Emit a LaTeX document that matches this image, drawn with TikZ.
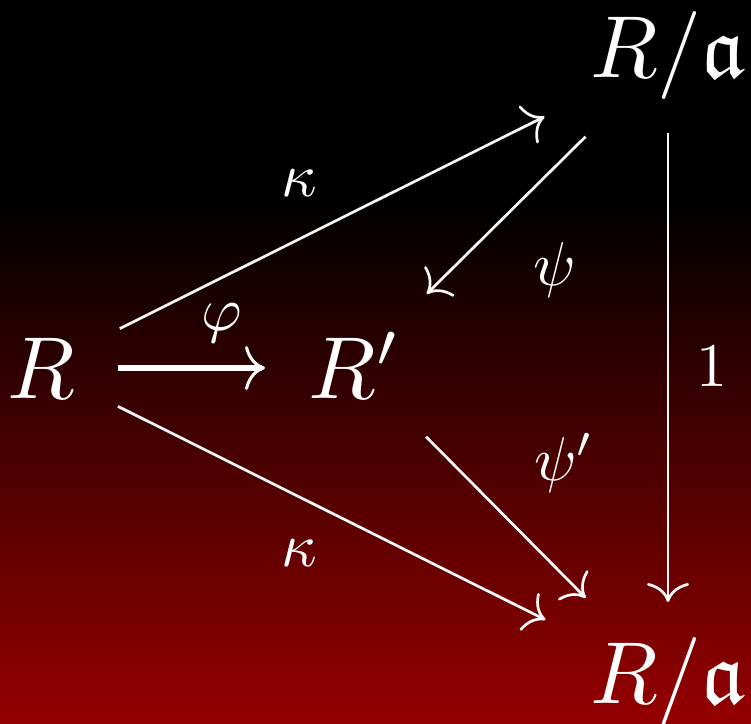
\documentclass[tikz,border=0pt]{standalone}
\usepackage{amssymb}
\usetikzlibrary{arrows.meta}
\definecolor{bgred}{RGB}{150,0,0}
\pgfdeclareverticalshading{bgshade}{100bp}{color(0bp)=(bgred); color(25bp)=(bgred); color(61bp)=(black); color(100bp)=(black)}
\tikzset{
  obj/.style={text=white, scale=8.8, inner sep=0pt, anchor=base},
  lab/.style={text=white, scale=6.2, inner sep=0pt},
  arr/.style={draw=white!95!gray, line width=2.7pt,
    -{Computer Modern Rightarrow[length=19pt,width=42pt,line width=2.7pt]}},
  thickarr/.style={draw=white, line width=6pt,
    -{Computer Modern Rightarrow[length=20pt,width=44pt,line width=3pt]}},
}
\begin{document}
\begin{tikzpicture}[x=1pt,y=-1pt]
\useasboundingbox (0,0) rectangle (751,723);
\shade[shading=bgshade] (0,0) rectangle (751,723);
\node[obj] (R) at (41,398) {$R$};
\node[obj] (Rp) at (355,398) {$R'$};
\node[obj] (Rt) at (668,77) {$R/\mathfrak{a}$};
\node[obj] (Rb) at (668,703) {$R/\mathfrak{a}$};
\draw[arr, shorten <=88pt, shorten >=138pt] (R.center) -- (Rt.center);
\draw[arr, shorten <=86pt, shorten >=137pt] (R.center) -- (Rb.center);
\draw[thickarr, shorten <=77pt, shorten >=90pt] (R.center) -- (R.center -| Rp.center);
\draw[arr, shorten <=116pt, shorten >=101pt] (Rt.center) -- (Rp.center);
\draw[arr, shorten <=101pt, shorten >=117pt] (Rp.center) -- (Rb.center);
\draw[arr, shorten <=78pt, shorten >=79pt] (Rt.center) -- (Rb.center);
\node[lab] (k1) at (299,183) {$\kappa$};
\node[lab] (k2) at (299,553) {$\kappa$};
\node[lab] (ph) at (222,323) {$\varphi$};
\node[lab] (ps) at (555,270) {$\psi$};
\node[lab] (pp) at (564,463) {$\psi'$};
\node[lab] (one) at (712,367) {$1$};
\end{tikzpicture}
\end{document}
